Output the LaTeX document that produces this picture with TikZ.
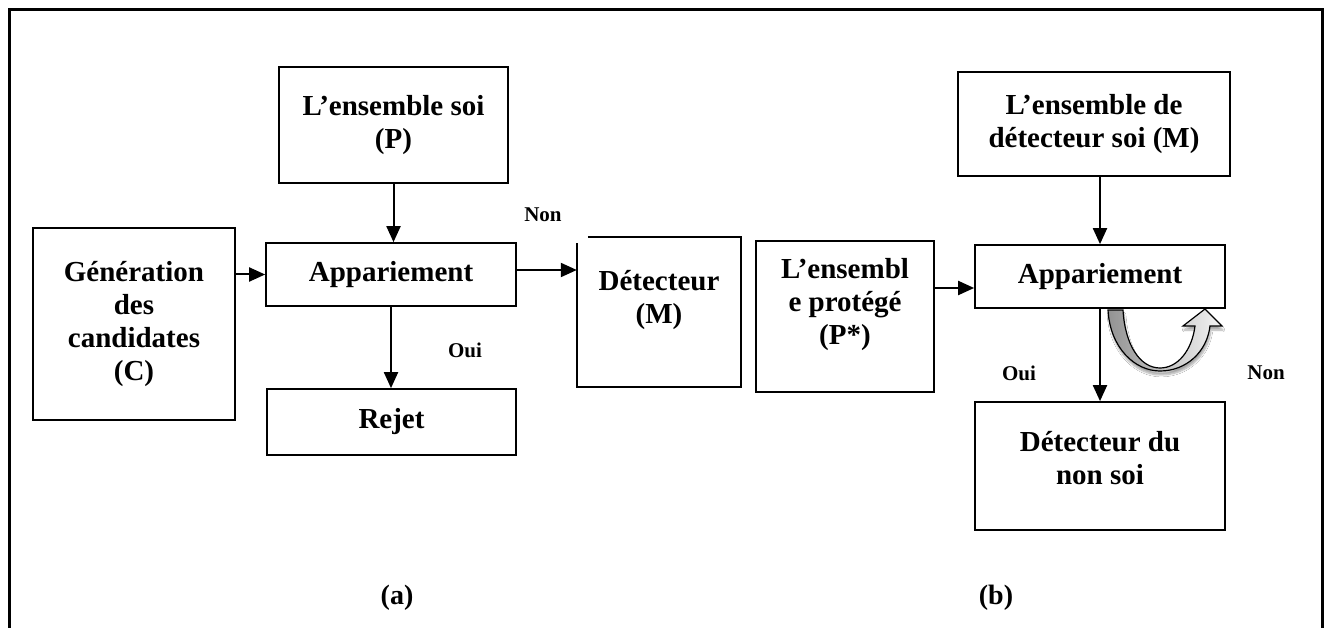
\documentclass[tikz,border=0pt]{standalone}
\usepackage{fontspec}
\setmainfont{Liberation Serif}
\usetikzlibrary{arrows.meta,shadows.blur}

\begin{document}
\begin{tikzpicture}[x=1pt,y=-1pt,
  box/.style={draw,line width=1.7pt,rectangle,inner sep=0pt,align=center,
              font=\fontsize{29}{33}\selectfont\bfseries},
  frame/.style={rectangle,inner sep=0pt},
  txt/.style={inner sep=0pt,align=center,font=\fontsize{29}{33}\selectfont\bfseries},
  lbl/.style={inner sep=0pt,font=\fontsize{21}{24}\selectfont\bfseries},
  figlbl/.style={inner sep=0pt,font=\fontsize{28}{32}\selectfont\bfseries},
  arr/.style={line width=2pt,-{Triangle[length=16pt,width=14pt]}}]

\useasboundingbox (0,0) rectangle (1330,628);
\fill[white] (0,0) rectangle (1330,628);

% outer frame (open at the bottom)
\draw[line width=2.8pt] (9.5,628) -- (9.5,9.5) -- (1322.5,9.5) -- (1322.5,628);

% ---------- (a) generation of detectors ----------
\node[box,minimum width=229pt,minimum height=116pt] (setP) at (393.5,125) {L’ensemble soi\\(P)};
\node[box,minimum width=202pt,minimum height=192pt] (gen) at (134,324) {Génération\\des\\candidates\\(C)};
\node[box,minimum width=250pt,minimum height=63pt] (appL) at (391,274.5) {Appariement};
\node[box,minimum width=249pt,minimum height=66pt] (rej) at (391.5,422) {Rejet};

\node[frame,minimum width=164pt,minimum height=150pt] (det) at (659,312) {};
\node[txt] (detT) at (659,300) {Détecteur\\(M)};
\draw[line width=1.7pt] ([xshift=11pt]det.north west) -- (det.north east)
  -- (det.south east) -- (det.south west) -- ([yshift=-6pt]det.north west);

\draw[arr] (setP.south) -- (setP.south |- appL.north);
\draw[arr] (gen.east |- appL.west) -- (appL.west);
\coordinate (nonL) at ([yshift=4.5pt]appL.east);
\draw[arr] (nonL) -- (nonL -| det.west);
\draw[arr] (appL.south) -- (appL.south |- rej.north);

\node[lbl] (nonA) at (543,215) {Non};
\node[lbl] (ouiA) at (465,350) {Oui};
\node[figlbl] (capA) at (397,598) {(a)};

% ---------- (b) detection ----------
\node[box,minimum width=178pt,minimum height=151pt] (pstar) at (845,316.5) {};
\node[txt] (pstarT) at (845,305) {L’ensembl\\e protégé\\(P*)};
\node[box,minimum width=272pt,minimum height=104pt] (setM) at (1094,124) {L’ensemble de\\détecteur soi (M)};
\node[box,minimum width=250pt,minimum height=63pt] (appR) at (1100,276.5) {Appariement};
\node[box,minimum width=250pt,minimum height=128pt] (nonsoi) at (1100,466) {};
\node[txt] (nonsoiT) at (1100,458) {Détecteur du\\non soi};

\draw[arr] (appR.north |- setM.south) -- (appR.north);
\coordinate (pin) at ([yshift=28.5pt]pstar.east);
\draw[arr] (pin) -- (pin -| appR.west);
\draw[arr] (appR.south) -- (nonsoi.north);

% curved return arrow
\path[draw=black,line width=1.2pt,left color=gray!85,right color=gray!8,
      blur shadow={shadow xshift=1pt,shadow yshift=-4pt,shadow opacity=35,shadow blur steps=8}]
  (1108,310) .. controls (1110,348) and (1135,371) .. (1160,371)
  .. controls (1186,371) and (1207,352) .. (1210,326)
  -- (1222,326) -- (1205,309) -- (1183,326) -- (1195,326)
  .. controls (1192,350) and (1178,368) .. (1160,368)
  .. controls (1140,368) and (1125,345) .. (1123,310) -- cycle;

\node[lbl] (ouiB) at (1019,373) {Oui};
\node[lbl] (nonB) at (1266,373) {Non};
\node[figlbl] (capB) at (996,598) {(b)};
\end{tikzpicture}
\end{document}
